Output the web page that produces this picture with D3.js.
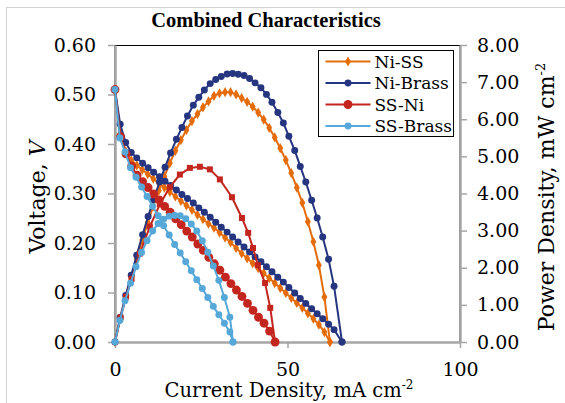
<!DOCTYPE html>
<html>
<head>
<meta charset="utf-8">
<script src="https://cdn.jsdelivr.net/npm/d3@7"></script>
<style>
  body { margin: 0; background: #fff; }
  svg text { font-family: "DejaVu Serif", serif; fill: #000; }
</style>
</head>
<body>
<div id="chart"></div>
<script>
// Values (current in mA cm-2, voltage in V, power in mW cm-2)
const niSSCurrent = [0, 1.5, 3.1, 4.7, 6.3, 7.9, 9.5, 11.1, 12.7, 14.3, 15.9, 17.5, 19.1, 20.7, 22.3, 23.9, 25.5, 27.1, 28.7, 30.3,
  31.9, 33.5, 35.1, 36.7, 38.3, 39.9, 41.5, 43.1, 44.7, 46.3, 47.9, 49.5, 51.1, 52.7, 54.3, 55.9, 57.5, 59.1, 60.7, 62.3];
const niSSVoltage = [0.51, 0.42, 0.385, 0.367, 0.357, 0.348, 0.339, 0.33, 0.321, 0.312, 0.303, 0.294, 0.285, 0.276, 0.267, 0.257, 0.248, 0.239, 0.231, 0.221,
  0.211, 0.201, 0.19, 0.179, 0.169, 0.159, 0.149, 0.139, 0.129, 0.119, 0.109, 0.099, 0.089, 0.079, 0.069, 0.058, 0.047, 0.035, 0.02, 0];
const niSSPower = [0, 0.63, 1.19, 1.72, 2.25, 2.75, 3.22, 3.66, 4.08, 4.46, 4.82, 5.15, 5.44, 5.71, 5.95, 6.14, 6.32, 6.48, 6.63, 6.7,
  6.73, 6.73, 6.67, 6.57, 6.47, 6.34, 6.18, 5.99, 5.77, 5.51, 5.22, 4.9, 4.55, 4.16, 3.75, 3.24, 2.7, 2.07, 1.21, 0];

const niBrassCurrent = [0, 1.5, 3.1, 4.7, 6.3, 8.0, 9.6, 11.2, 12.9, 14.5, 16.1, 17.8, 19.4, 21.0, 22.7, 24.3, 25.9, 27.6, 29.2, 30.8,
  32.5, 34.1, 35.7, 37.4, 39.0, 40.6, 42.3, 43.9, 45.5, 47.2, 48.8, 50.4, 52.1, 53.7, 55.3, 57.0, 58.6, 60.2, 61.9, 63.5, 65.8];
const niBrassVoltage = [0.51, 0.44, 0.403, 0.383, 0.372, 0.361, 0.352, 0.343, 0.334, 0.325, 0.316, 0.307, 0.298, 0.29, 0.281, 0.271, 0.262, 0.252, 0.242, 0.232,
  0.222, 0.212, 0.202, 0.192, 0.182, 0.172, 0.162, 0.152, 0.142, 0.131, 0.121, 0.11, 0.099, 0.088, 0.078, 0.067, 0.057, 0.047, 0.036, 0.025, 0];
const niBrassPower = [0, 0.66, 1.25, 1.8, 2.34, 2.89, 3.38, 3.84, 4.31, 4.71, 5.09, 5.46, 5.78, 6.09, 6.38, 6.59, 6.79, 6.96, 7.07, 7.15,
  7.22, 7.23, 7.21, 7.18, 7.1, 6.98, 6.85, 6.67, 6.46, 6.18, 5.9, 5.54, 5.16, 4.73, 4.31, 3.82, 3.34, 2.83, 2.23, 1.5, 0];

const ssNiCurrent = [0, 1.6, 3.2, 4.8, 6.4, 8.0, 9.6, 11.2, 12.8, 14.4, 16.0, 17.6, 19.2, 20.8, 22.4, 24.0, 25.6, 27.2, 28.8, 30.4,
  32.0, 33.6, 35.2, 36.8, 38.4, 40.0, 41.6, 43.2, 44.8, 46.4];
const ssNiVoltage = [0.51, 0.415, 0.38, 0.355, 0.337, 0.324, 0.312, 0.299, 0.287, 0.274, 0.262, 0.249, 0.237, 0.224, 0.212, 0.198, 0.185, 0.171, 0.158, 0.145,
  0.131, 0.118, 0.105, 0.092, 0.078, 0.064, 0.05, 0.038, 0.022, 0];
const ssNiPowerCurrent = [0, 1.6, 3.2, 4.8, 7.2, 10.1, 13.0, 15.9, 18.8, 21.7, 24.6, 27.5, 30.4, 33.9, 36.8, 38.6, 40.0, 41.4, 43.5, 45.0, 46.4];
const ssNiPower = [0, 0.66, 1.22, 1.7, 2.38, 3.11, 3.71, 4.17, 4.51, 4.69, 4.72, 4.65, 4.38, 3.9, 3.34, 2.94, 2.53, 2.07, 1.59, 0.92, 0];

const ssBrassCurrent = [0, 1.4, 2.9, 4.5, 6.1, 7.7, 9.3, 10.9, 12.5, 14.1, 15.7, 17.3, 18.9, 20.5, 22.1, 23.7, 25.3, 26.9, 28.5, 30.1,
  31.7, 33.3, 34.2];
const ssBrassVoltage = [0.51, 0.412, 0.384, 0.352, 0.333, 0.313, 0.294, 0.274, 0.255, 0.235, 0.216, 0.197, 0.18, 0.162, 0.144, 0.126, 0.108, 0.09, 0.072, 0.055,
  0.038, 0.02, 0];
const ssBrassPower = [0, 0.58, 1.11, 1.58, 2.03, 2.41, 2.73, 2.99, 3.19, 3.31, 3.39, 3.41, 3.4, 3.32, 3.18, 2.99, 2.73, 2.42, 2.05, 1.66,
  1.2, 0.67, 0];

const seriesNames = ["Ni-SS", "Ni-Brass", "SS-Ni", "SS-Brass"];
const seriesColors = ["#e46c0a", "#253580", "#c3261f", "#55a8d8"];
const xTicks = [0, 50, 100];
const voltageTicks = [0, 0.1, 0.2, 0.3, 0.4, 0.5, 0.6];
const powerTicks = [0, 1, 2, 3, 4, 5, 6, 7, 8];

const width = 565, height = 403;
const plot = { left: 115, right: 460, top: 45, bottom: 342 };
const axisGrey = "#a6a6a6";
const serif = "DejaVu Serif";

// zip helper
function pts(xs, ys) { return xs.map((x, i) => ({ x: x, y: ys[i] })); }

const series = [
  { name: seriesNames[0], color: seriesColors[0], v: pts(niSSCurrent, niSSVoltage), p: pts(niSSCurrent, niSSPower),
    vMark: { type: d3.symbolDiamond, size: 30 }, pMark: { type: d3.symbolDiamond, size: 30 } },
  { name: seriesNames[1], color: seriesColors[1], v: pts(niBrassCurrent, niBrassVoltage), p: pts(niBrassCurrent, niBrassPower),
    vMark: { type: d3.symbolCircle, size: 38 }, pMark: { type: d3.symbolCircle, size: 38 } },
  { name: seriesNames[2], color: seriesColors[2], v: pts(ssNiCurrent, ssNiVoltage), p: pts(ssNiPowerCurrent, ssNiPower),
    vMark: { type: d3.symbolCircle, size: 62 }, pMark: { type: d3.symbolSquare, size: 36 } },
  { name: seriesNames[3], color: seriesColors[3], v: pts(ssBrassCurrent, ssBrassVoltage), p: pts(ssBrassCurrent, ssBrassPower),
    vMark: { type: d3.symbolCircle, size: 38 }, pMark: { type: d3.symbolCircle, size: 38 } }
];

const svg = d3.select("#chart").append("svg")
  .attr("width", width)
  .attr("height", height);

// outer chart border (runs off the right/bottom edge)
svg.append("rect")
  .attr("x", 6.5).attr("y", 7.5)
  .attr("width", 620).attr("height", 420)
  .attr("fill", "none").attr("stroke", "#d4d4d4");

const x = d3.scaleLinear().domain([0, 100]).range([plot.left, plot.right]);
const yV = d3.scaleLinear().domain([0, 0.6]).range([plot.bottom, plot.top]);
const yP = d3.scaleLinear().domain([0, 8]).range([plot.bottom, plot.top]);

// plot area border
svg.append("rect")
  .attr("x", plot.left).attr("y", plot.top + 0.5)
  .attr("width", plot.right - plot.left).attr("height", plot.bottom - plot.top)
  .attr("fill", "none").attr("stroke", "#000").attr("stroke-width", 1);

function styleAxis(g) {
  g.attr("font-family", serif);
  g.select(".domain").attr("stroke", axisGrey).attr("stroke-width", 2.5);
  g.selectAll(".tick line").attr("stroke", axisGrey).attr("stroke-width", 1.5);
  g.selectAll(".tick text").style("font-family", serif).style("font-size", "19px").attr("fill", "#000");
}

svg.append("g")
  .attr("transform", `translate(${plot.left},0)`)
  .call(d3.axisLeft(yV).tickValues(voltageTicks).tickFormat(d3.format(".2f")).tickSize(7).tickSizeOuter(0).tickPadding(12))
  .call(styleAxis);

svg.append("g")
  .attr("transform", `translate(${plot.right},0)`)
  .call(d3.axisRight(yP).tickValues(powerTicks).tickFormat(d3.format(".2f")).tickSize(7).tickSizeOuter(0).tickPadding(10))
  .call(styleAxis);

svg.append("g")
  .attr("transform", `translate(0,${plot.bottom})`)
  .call(d3.axisBottom(x).tickValues(xTicks).tickSize(6).tickSizeOuter(0).tickPadding(15))
  .call(styleAxis);

// curves
const lineV = d3.line().x(d => x(d.x)).y(d => yV(d.y));
const lineP = d3.line().x(d => x(d.x)).y(d => yP(d.y));

series.forEach(s => {
  const g = svg.append("g");
  [[s.v, lineV, yV, s.vMark], [s.p, lineP, yP, s.pMark]].forEach(([pts, line, yScale, mark]) => {
    g.append("path")
      .datum(pts)
      .attr("d", line)
      .attr("fill", "none")
      .attr("stroke", s.color)
      .attr("stroke-width", 2);
    g.selectAll(null)
      .data(pts)
      .enter()
      .append("path")
      .attr("transform", d => `translate(${x(d.x)},${yScale(d.y)})`)
      .attr("d", d3.symbol().type(mark.type).size(mark.size))
      .attr("fill", s.color);
  });
});

// title
svg.append("text")
  .attr("x", 266).attr("y", 27)
  .attr("text-anchor", "middle")
  .style("font-family", "Liberation Serif")
  .style("font-size", "20.5px")
  .style("font-weight", "bold")
  .text("Combined Characteristics");

// axis titles
const xTitle = svg.append("text")
  .attr("x", 289).attr("y", 397)
  .attr("text-anchor", "middle")
  .style("font-family", serif)
  .style("font-size", "19.5px");
xTitle.append("tspan").text("Current Density, mA cm");
xTitle.append("tspan").attr("dy", -8).style("font-size", "12px").text("-2");

const yTitle = svg.append("text")
  .attr("transform", "translate(45,197) rotate(-90)")
  .attr("text-anchor", "middle")
  .style("font-family", serif)
  .style("font-size", "22px");
yTitle.append("tspan").text("Voltage, ");
yTitle.append("tspan").style("font-style", "italic").text("V");

const y2Title = svg.append("text")
  .attr("transform", "translate(554,197) rotate(-90)")
  .attr("text-anchor", "middle")
  .style("font-family", serif)
  .style("font-size", "22px");
y2Title.append("tspan").text("Power Density, mW cm");
y2Title.append("tspan").attr("dy", -9).style("font-size", "13px").text("-2");

// legend
const legend = svg.append("g").attr("transform", "translate(318.5,50.5)");
legend.append("rect")
  .attr("width", 135).attr("height", 86)
  .attr("fill", "#fff").attr("stroke", "#000").attr("stroke-width", 1);

series.forEach((s, i) => {
  const row = legend.append("g").attr("transform", `translate(0,${11 + i * 21.5})`);
  row.append("line")
    .attr("x1", 7).attr("x2", 52)
    .attr("stroke", s.color).attr("stroke-width", 2);
  row.append("path")
    .attr("transform", "translate(29.5,0)")
    .attr("d", d3.symbol().type(s.vMark.type).size(s.vMark.size))
    .attr("fill", s.color);
  row.append("text")
    .attr("x", 56).attr("y", 6)
    .style("font-family", serif)
    .style("font-size", "17px")
    .text(s.name);
});
</script>
</body>
</html>
